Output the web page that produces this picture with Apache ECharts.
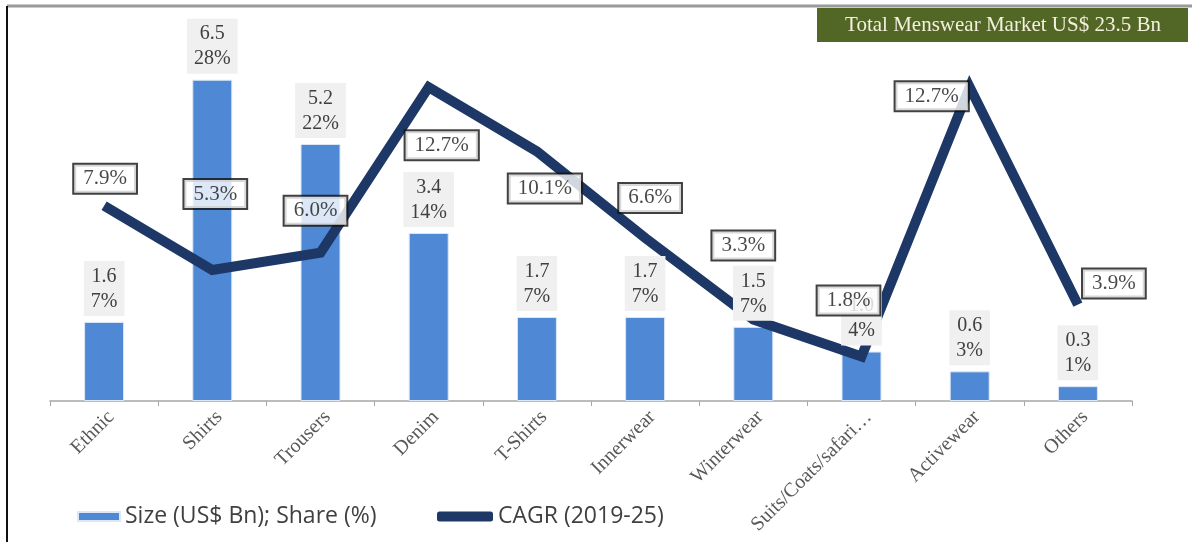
<!DOCTYPE html>
<html>
<head>
<meta charset="utf-8">
<script src="https://cdn.jsdelivr.net/npm/echarts@6/dist/echarts.min.js"></script>
<style>
  html, body { margin: 0; padding: 0; background: #fff; }
  #chart { width: 1192px; height: 542px; }
</style>
</head>
<body>
<div id="chart"></div>
<script>
// categories and values
const categories = ['Ethnic', 'Shirts', 'Trousers', 'Denim', 'T-Shirts', 'Innerwear', 'Winterwear', 'Suits/Coats/safari…', 'Activewear', 'Others']
const sizeBn = [1.6, 6.5, 5.2, 3.4, 1.7, 1.7, 1.5, 1.0, 0.6, 0.3]
const sharePct = [7, 28, 22, 14, 7, 7, 7, 4, 3, 1]
const cagrPct = [7.9, 5.3, 6.0, 12.7, 10.1, 6.6, 3.3, 1.8, 12.7, 3.9]
const totalText = 'Total Menswear Market US$ 23.5 Bn'

// where each CAGR box sits relative to its point (px)
const cagrLabelOffsets = [[1, -27], [3, -76], [-5, -42], [13, 58], [8, 37], [5, -40], [-10, -74], [-13, -56], [-38, 9], [36, -21]]

const serif = '"Liberation Serif", "Times New Roman", serif'
const sans = '"Open Sans", "Noto Sans", sans-serif'
const navy = '#1d3866'

const chart = echarts.init(document.getElementById('chart'))

const option = {
  animation: false,
  grid: { left: 50, right: 60, top: 55, bottom: 141 },
  legend: [
    {
      data: ['Size (US$ Bn); Share (%)'],
      left: 72,
      top: 500,
      itemWidth: 42,
      itemHeight: 9,
      icon: 'rect',
      textStyle: { fontFamily: sans, fontSize: 23, color: '#404040' }
    },
    {
      data: ['CAGR (2019-25)'],
      left: 432,
      top: 500,
      itemWidth: 56,
      itemHeight: 10,
      icon: 'roundRect',
      textStyle: { fontFamily: sans, fontSize: 23, color: '#404040' }
    }
  ],
  xAxis: {
    type: 'category',
    data: categories,
    axisLine: { lineStyle: { color: '#a6a6a6', width: 1.5 } },
    axisTick: { show: true, length: 5, lineStyle: { color: '#a6a6a6' } },
    axisLabel: {
      interval: 0,
      rotate: 45,
      margin: 6,
      verticalAlign: 'top',
      fontFamily: serif,
      fontSize: 20,
      color: '#595959'
    }
  },
  yAxis: [
    { type: 'value', min: 0, max: 7, show: false, splitLine: { show: false } },
    { type: 'value', min: 0, max: 14, show: false, splitLine: { show: false } }
  ],
  series: [
    {
      name: 'Size (US$ Bn); Share (%)',
      type: 'bar',
      yAxisIndex: 0,
      barWidth: 40,
      itemStyle: { color: '#4f88d4', borderColor: '#dce8f7', borderWidth: 1 },
      data: sizeBn,
      z: 1
    },
    {
      name: 'CAGR (2019-25)',
      type: 'line',
      yAxisIndex: 1,
      data: cagrPct,
      symbol: 'none',
      lineStyle: { color: navy, width: 10, join: 'miter' },
      itemStyle: { color: navy },
      z: 2
    },
    {
      // size / share labels, drawn above the CAGR line
      name: 'sizeLabels',
      type: 'bar',
      yAxisIndex: 0,
      barWidth: 40,
      barGap: '-100%',
      silent: true,
      itemStyle: { color: 'rgba(0,0,0,0)' },
      data: sizeBn,
      z: 3,
      label: {
        show: true,
        position: 'top',
        distance: 6,
        formatter: p => p.value.toFixed(1) + '\n' + sharePct[p.dataIndex] + '%',
        fontFamily: serif,
        fontSize: 20,
        lineHeight: 25,
        color: '#404040',
        backgroundColor: '#f0f0f0',
        padding: [3, 7, 2, 7]
      }
    },
    {
      // CAGR boxes
      name: 'cagrLabels',
      type: 'scatter',
      yAxisIndex: 1,
      silent: true,
      symbolSize: 0,
      z: 4,
      data: cagrPct.map((v, i) => ({
        value: v,
        label: { offset: cagrLabelOffsets[i] }
      })),
      label: {
        show: true,
        position: 'inside',
        formatter: p => p.value.toFixed(1) + '%',
        fontFamily: serif,
        fontSize: 21,
        color: '#1a1a1a',
        backgroundColor: '#fff',
        borderColor: '#111',
        borderWidth: 2,
        padding: [4, 9, 3, 9]
      }
    }
  ],
  graphic: [
    { type: 'line', shape: { x1: 7, y1: 6, x2: 1192, y2: 6 }, style: { stroke: '#9a9a9a', lineWidth: 3 }, silent: true },
    { type: 'line', shape: { x1: 7, y1: 6, x2: 7, y2: 542 }, style: { stroke: '#111', lineWidth: 2 }, silent: true },
    {
      type: 'group',
      left: 817,
      top: 8,
      children: [
        { type: 'rect', shape: { x: 0, y: 0, width: 371, height: 34 }, style: { fill: '#526626' } },
        {
          type: 'text',
          x: 186,
          y: 17,
          style: {
            text: totalText,
            fill: '#f3f0dc',
            font: '21px ' + serif,
            align: 'center',
            verticalAlign: 'middle'
          }
        }
      ]
    }
  ]
}

chart.setOption(option)
</script>
</body>
</html>
